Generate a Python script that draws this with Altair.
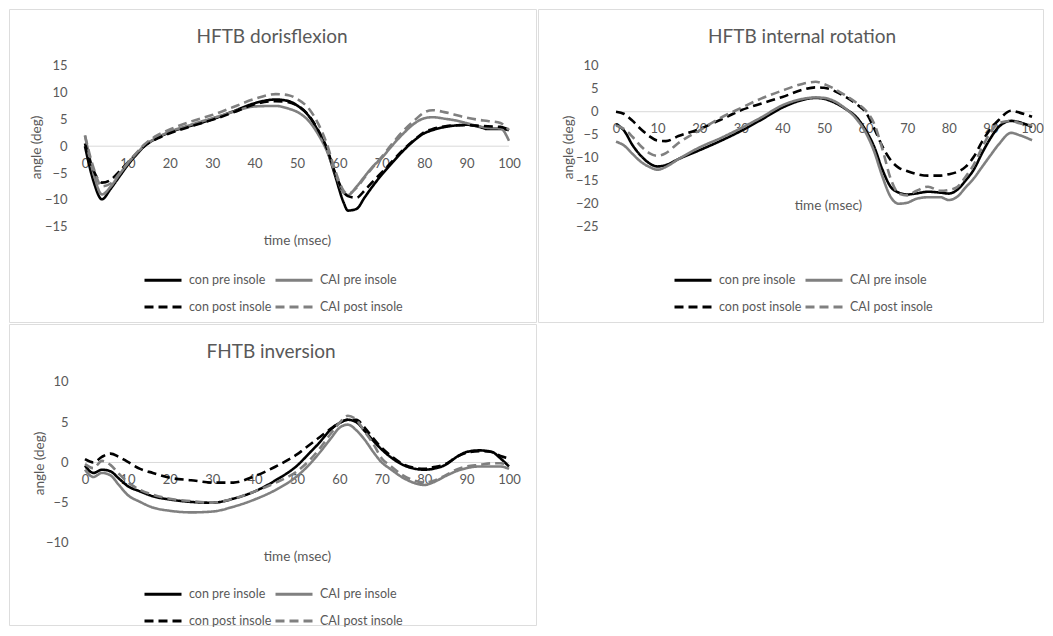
import altair as alt
import pandas as pd

SERIES = ["con pre insole", "con post insole", "CAI pre insole", "CAI post insole"]
COLORS = ["#000000", "#000000", "#808080", "#808080"]
DASHES = [[1, 0], [9, 5], [1, 0], [9, 5]]
XTICKS = [0, 10, 20, 30, 40, 50, 60, 70, 80, 90, 100]

# ---------- HFTB dorisflexion ----------
t1 = [0, 2, 4, 6, 8, 10, 12, 14, 17, 20, 25, 30, 35, 40, 45, 48, 50, 53, 55, 57, 59,
      61, 62, 64, 66, 68, 70, 72, 75, 78, 80, 82, 85, 88, 90, 93, 95, 98, 100]
p1_con_pre = [0, -6.5, -9.9, -8.0, -5.8, -3.6, -1.7, 0, 1.5, 2.6, 3.8, 5.0, 6.5, 8.0, 8.7, 8.4, 7.6, 5.4, 2.8, -0.5, -5.5,
              -10.5, -12.0, -11.7, -9.5, -7.3, -5.3, -3.5, -0.9, 1.3, 2.4, 3.0, 3.6, 3.9, 4.0, 3.6, 3.2, 3.2, 3.0]
p1_cai_pre = [2.0, -5.0, -9.0, -7.6, -5.4, -3.3, -1.5, 0.1, 1.6, 2.7, 4.0, 5.2, 6.4, 7.4, 7.5, 7.0, 6.4, 4.5, 2.2, -0.8, -5.0,
              -8.7, -9.1, -7.6, -5.6, -3.7, -2.2, -0.3, 2.3, 4.4, 5.2, 5.4, 5.1, 4.7, 4.3, 3.7, 3.4, 3.3, 1.0]
p1_con_post = [0.5, -4.5, -6.8, -6.3, -4.8, -3.1, -1.5, 0, 1.4, 2.4, 3.7, 4.9, 6.3, 7.8, 8.4, 8.2, 7.6, 5.5, 3.0, -0.3, -5.0,
               -8.5, -9.3, -9.6, -8.2, -6.5, -4.9, -3.2, -0.7, 1.4, 2.6, 3.2, 3.7, 3.9, 3.9, 3.8, 3.7, 3.6, 3.0]
p1_cai_post = [2.0, -4.0, -7.5, -7.0, -5.2, -3.2, -1.4, 0.3, 2.0, 3.1, 4.6, 5.8, 7.3, 8.8, 9.7, 9.5, 8.8, 6.8, 4.2, 0.5, -4.5,
               -8.3, -8.9, -7.8, -5.8, -3.8, -2.0, 0.0, 2.8, 5.0, 6.3, 6.7, 6.3, 5.7, 5.3, 4.9, 4.7, 4.3, 3.0]

# ---------- HFTB internal rotation ----------
t2 = [0, 2, 4, 6, 8, 10, 12, 15, 20, 25, 30, 35, 40, 45, 48, 50, 55, 58, 60, 62, 64,
      66, 68, 70, 72, 75, 78, 80, 82, 84, 86, 88, 90, 92, 95, 97, 100]
p2_con_pre = [-2.7, -4.2, -7.3, -9.6, -11.2, -11.9, -11.6, -10.3, -8.4, -6.4, -4.2, -1.7, 0.9, 2.6, 3.0, 2.8, 0.7, -1.4, -4.0, -7.5, -12.5,
              -16.3, -17.6, -18.0, -17.8, -17.4, -17.6, -17.8, -17.0, -15.0, -12.6, -9.0, -5.8, -3.3, -2.0, -2.3, -3.3]
p2_cai_pre = [-6.5, -7.4, -9.2, -10.9, -12.0, -12.6, -12.0, -10.3, -7.8, -5.8, -3.6, -1.2, 1.4, 2.8, 3.1, 3.0, 0.8, -1.8, -4.5, -8.5, -14.0,
              -18.5, -20.0, -19.8, -19.0, -18.6, -18.6, -19.2, -18.5, -16.5, -14.5, -12.0, -9.5, -7.1, -4.6, -5.1, -6.2]
p2_con_post = [0.0, -0.5, -2.0, -3.8, -5.3, -6.3, -6.4, -5.3, -3.8, -1.8, 0.3, 1.8, 3.2, 4.8, 5.3, 5.2, 3.3, 1.5, -0.1, -3.5, -7.5,
               -10.5, -12.2, -12.9, -13.5, -13.9, -13.9, -13.6, -13.1, -12.0, -9.8, -6.5, -3.8, -1.8, 0.2, -0.2, -1.1]
p2_cai_post = [-3.0, -3.8, -5.5, -7.5, -9.0, -9.6, -9.0, -6.8, -4.1, -1.4, 0.8, 2.9, 4.6, 6.1, 6.5, 6.0, 3.6, 1.8, 0.3, -2.5, -8.0,
               -14.5, -17.8, -18.2, -17.3, -16.3, -17.2, -17.0, -16.4, -14.2, -11.5, -7.8, -4.5, -2.5, -2.0, -2.5, -3.0]

# ---------- FHTB inversion ----------
t3 = [0, 2, 4, 6, 8, 10, 13, 16, 20, 25, 30, 35, 40, 45, 50, 53, 55, 58, 60, 62, 64,
      66, 68, 70, 72, 75, 78, 80, 82, 85, 88, 90, 93, 96, 98, 100]
p3_con_pre = [-0.4, -1.3, -0.9, -1.1, -2.0, -2.9, -3.6, -4.2, -4.6, -4.9, -5.0, -4.5, -3.6, -2.2, -0.4, 1.2, 2.3, 4.1, 4.9, 5.3, 5.0,
              3.9, 2.7, 1.6, 0.7, -0.3, -0.8, -0.9, -0.8, -0.3, 0.8, 1.3, 1.5, 1.3, 0.5, -0.5]
p3_cai_pre = [-0.9, -1.8, -1.3, -1.6, -2.8, -4.0, -4.9, -5.6, -6.0, -6.2, -6.1, -5.5, -4.6, -3.4, -1.7, -0.2, 1.0, 3.0, 4.3, 4.7, 4.0,
              2.8, 1.3, 0.0, -0.8, -1.9, -2.6, -2.8, -2.5, -1.7, -1.0, -0.7, -0.5, -0.5, -0.5, -0.8]
p3_con_post = [0.4, 0.0, 0.7, 1.1, 0.7, 0.1, -0.8, -1.3, -1.9, -2.2, -2.5, -2.5, -1.7, -0.5, 1.0, 2.2, 3.0, 4.2, 4.9, 5.3, 5.3,
               4.3, 3.0, 1.8, 0.9, -0.2, -0.7, -0.8, -0.6, -0.2, 0.8, 1.2, 1.4, 1.3, 0.8, 0.5]
p3_cai_post = [-0.2, -0.7, 0.2, -0.3, -1.4, -2.4, -3.4, -4.0, -4.5, -4.8, -5.0, -4.5, -3.6, -2.5, -1.1, 0.3, 1.5, 3.6, 4.9, 5.8, 5.3,
               3.8, 2.3, 0.5, -0.4, -1.6, -2.3, -2.5, -2.3, -1.6, -0.8, -0.5, -0.3, -0.1, -0.1, -0.3]

GRAY = "#595959"
FONT = "Lato"


def make_panel(title, times, series_vals, width, height, xdom, ydom, yticks, y_off,
               title_x, title_y, ytitle_x, ytitle_y, xtitle_x, legend_x, legend_y):
    rows = []
    for name, vals in series_vals.items():
        for t, v in zip(times, vals):
            rows.append({"t": t, "v": v, "series": name})
    df = pd.DataFrame(rows)

    zero_px = height * (ydom[1] - 0) / (ydom[1] - ydom[0])

    xscale = alt.Scale(domain=xdom, nice=False, zero=False)
    yscale = alt.Scale(domain=ydom, nice=False, zero=False)

    legend = alt.Legend(
        title=None, orient="none", legendX=legend_x, legendY=legend_y,
        columns=2, symbolType="stroke", symbolSize=1369, symbolStrokeWidth=3,
        labelFontSize=12.5, labelColor=GRAY, labelFont=FONT, labelOffset=6,
        columnPadding=-3, rowPadding=0,
    )

    zero = alt.Chart(pd.DataFrame({"a": [0]})).mark_rule(color="#d9d9d9", strokeWidth=1).encode(
        x=alt.X("x0:Q", scale=xscale, axis=alt.Axis(
            values=XTICKS, grid=False, domain=False, ticks=False, tickSize=0,
            labelColor=GRAY, labelFontSize=13, labelFont=FONT,
            labelPadding=11, offset=zero_px - height,
            title="time (msec)", titleColor=GRAY, titleFontSize=13.5, titleFont=FONT,
            titleFontWeight="normal", titleX=xtitle_x, titleY=94,
            titleAlign="center", titleBaseline="middle")),
        x2=alt.X2("x1:Q"),
        y=alt.Y("y0:Q", scale=yscale, axis=alt.Axis(
            values=yticks, grid=False, domain=False, ticks=False, tickSize=0,
            labelColor=GRAY, labelFontSize=13, labelFont=FONT, labelPadding=3,
            offset=-y_off, title="angle (deg)", titleColor=GRAY, titleFontSize=13.5,
            titleFont=FONT, titleFontWeight="normal", titleAngle=270,
            titleX=ytitle_x - y_off, titleY=ytitle_y, titleAlign="center",
            titleBaseline="middle")),
    ).transform_calculate(x0="0", x1="100", y0="0")

    lines = alt.Chart(df).mark_line(strokeWidth=2.6, interpolate="monotone").encode(
        x=alt.X("t:Q", scale=xscale),
        y=alt.Y("v:Q", scale=yscale),
        color=alt.Color("series:N", scale=alt.Scale(domain=SERIES, range=COLORS), legend=legend),
        strokeDash=alt.StrokeDash("series:N", scale=alt.Scale(domain=SERIES, range=DASHES), legend=legend),
        order=alt.Order("t:Q"),
    )

    head = alt.Chart(pd.DataFrame({"title": [title]})).mark_text(
        font=FONT, fontSize=19, color=GRAY, align="center", baseline="alphabetic"
    ).encode(text="title:N", x=alt.value(title_x), y=alt.value(title_y))

    return alt.layer(zero, lines, head).properties(width=width, height=height)


p1 = make_panel("HFTB dorisflexion", t1,
                {"con pre insole": p1_con_pre, "CAI pre insole": p1_cai_pre,
                 "con post insole": p1_con_post, "CAI post insole": p1_cai_post},
                527, 313, [-17.92, 106.37], [-32.76, 25.56], [15, 10, 5, 0, -5, -10, -15], 61,
                263, 34, 27, 138, 288, 134, 251)
p2 = make_panel("HFTB internal rotation", t2,
                {"con pre insole": p2_con_pre, "CAI pre insole": p2_cai_pre,
                 "con post insole": p2_con_post, "CAI post insole": p2_cai_post},
                505, 313, [-18.75, 102.64], [-45.72, 22.33], [10, 5, 0, -5, -10, -15, -20, -25], 63,
                264, 34, 30, 138, 290, 135, 251)
p3 = make_panel("FHTB inversion", t3,
                {"con pre insole": p3_con_pre, "CAI pre insole": p3_cai_pre,
                 "con post insole": p3_con_post, "CAI post insole": p3_cai_post},
                527, 301, [-17.92, 106.37], [-20.19, 17.2], [10, 5, 0, -5, -10], 62,
                262, 34, 30, 139, 288, 134, 250)

chart = alt.concat(p1, p2, p3, columns=2, spacing=2, bounds="flush").resolve_scale(
    color="independent", strokeDash="independent"
).properties(
    padding={"left": 0, "top": 0, "right": 0, "bottom": 0},
    background="white",
).configure_view(stroke="#d9d9d9", strokeWidth=1).configure(font=FONT)

chart.save("out.html", embed_options={"renderer": "svg", "actions": False})
